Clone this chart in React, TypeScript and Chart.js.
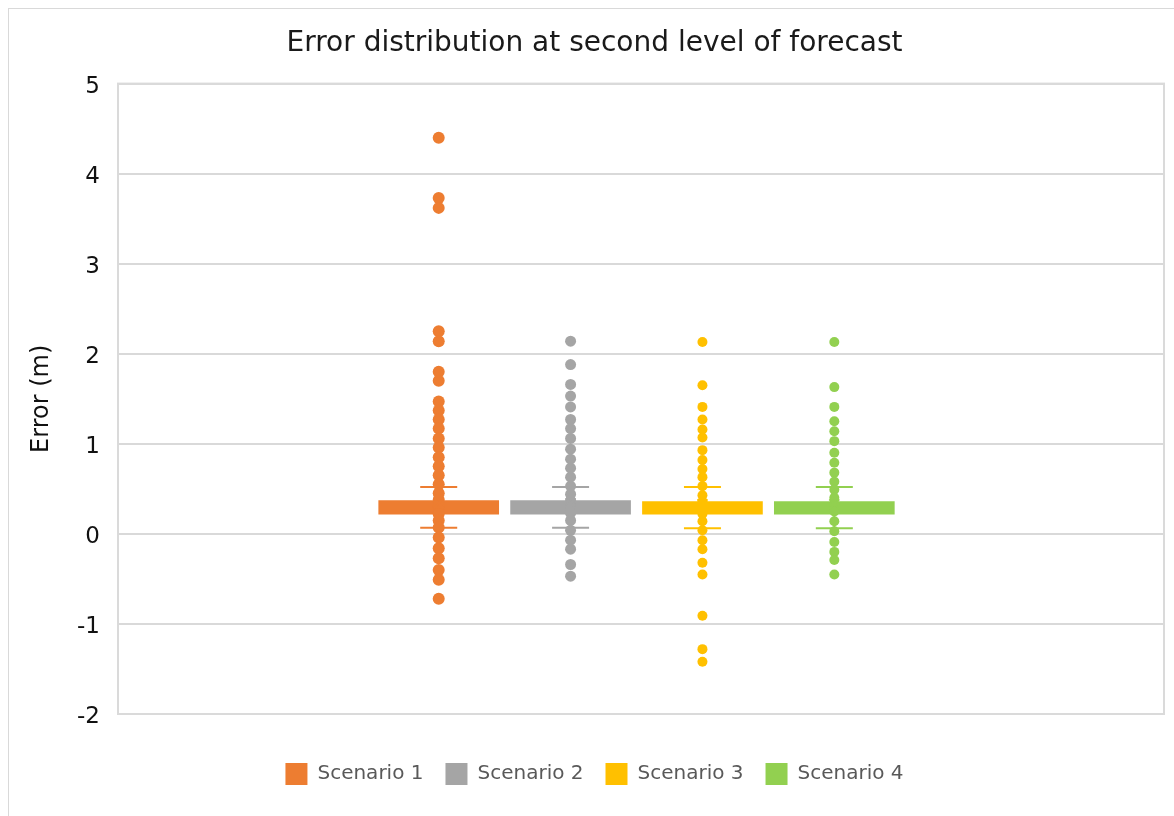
import { useEffect, useRef } from "react";
import { Chart, registerables } from "chart.js";
Chart.register(...registerables);

const scenarios = ["Scenario 1", "Scenario 2", "Scenario 3", "Scenario 4"];
const colors = ["#ED7D31", "#A5A5A5", "#FFC000", "#92D050"];
const positions = [0, 1, 2, 3];
const q1 = [0.22, 0.22, 0.22, 0.22];
const q3 = [0.37, 0.37, 0.36, 0.36];
const whiskerLow = [0.067, 0.067, 0.063, 0.063];
const whiskerHigh = [0.52, 0.52, 0.52, 0.52];
const means = [0.34, 0.34, 0.33, 0.33];
const dotRadius = [6, 5.5, 5, 5];

const points1 = [4.4, 3.73, 3.62, 2.25, 2.14, 1.8, 1.7, 1.47, 1.37, 1.27, 1.17, 1.06, 0.96, 0.85, 0.75, 0.65, 0.55, 0.45, 0.38, 0.3, 0.22, 0.15, 0.07, -0.04, -0.16, -0.27, -0.4, -0.51, -0.72];
const points2 = [2.14, 1.88, 1.66, 1.53, 1.41, 1.27, 1.17, 1.06, 0.94, 0.83, 0.73, 0.63, 0.53, 0.44, 0.37, 0.3, 0.23, 0.15, 0.04, -0.07, -0.17, -0.34, -0.47];
const points3 = [2.13, 1.65, 1.41, 1.27, 1.16, 1.07, 0.93, 0.82, 0.72, 0.63, 0.53, 0.43, 0.36, 0.3, 0.22, 0.14, 0.04, -0.07, -0.17, -0.32, -0.45, -0.91, -1.28, -1.42];
const points4 = [2.13, 1.63, 1.41, 1.25, 1.14, 1.03, 0.9, 0.79, 0.68, 0.58, 0.49, 0.4, 0.33, 0.25, 0.14, 0.03, -0.09, -0.2, -0.29, -0.45];
const allPoints = [points1, points2, points3, points4];

const yMin = -2;
const yMax = 5;
const xMin = -2.432;
const xMax = 5.5;

const FONT = "'DejaVu Sans', Verdana, sans-serif";

const framePlugin = {
  id: "frame",
  beforeDatasetsDraw(chart: any) {
    const { ctx, chartArea } = chart;
    const { left, top, right, bottom } = chartArea;
    ctx.save();
    ctx.strokeStyle = "#dadada";
    ctx.lineWidth = 2;
    ctx.strokeRect(left, top, right - left, bottom - top);
    ctx.restore();
  },
};

export default function App() {
  const ref = useRef<HTMLCanvasElement | null>(null);

  useEffect(() => {
    if (!ref.current) return;
    const datasets: any[] = [];
    scenarios.forEach((name, i) => {
      datasets.push({
        type: "bar",
        label: name,
        data: [{ x: positions[i], y: [q1[i], q3[i]] }],
        backgroundColor: colors[i],
        borderColor: colors[i],
        borderWidth: 0,
        barThickness: 120,
        grouped: false,
        order: 4,
      });
    });
    scenarios.forEach((name, i) => {
      datasets.push({
        type: "line",
        label: name + " whisker",
        data: [
          { x: positions[i], y: whiskerLow[i] },
          { x: positions[i], y: whiskerHigh[i] },
        ],
        borderColor: colors[i],
        borderWidth: 2,
        pointRadius: 0,
        showLine: true,
        order: 3,
      });
      datasets.push({
        type: "scatter",
        label: name + " caps",
        data: [
          { x: positions[i], y: whiskerLow[i] },
          { x: positions[i], y: whiskerHigh[i] },
        ],
        pointStyle: "line",
        pointRadius: 18.5,
        borderColor: colors[i],
        borderWidth: 2,
        order: 3,
      });
      datasets.push({
        type: "scatter",
        label: name + " points",
        data: allPoints[i].map((v) => ({ x: positions[i], y: v })),
        pointStyle: "circle",
        pointRadius: dotRadius[i],
        backgroundColor: colors[i],
        borderWidth: 0,
        order: 2,
      });
      datasets.push({
        type: "scatter",
        label: name + " mean",
        data: [{ x: positions[i], y: means[i] }],
        pointStyle: "crossRot",
        pointRadius: 7,
        borderColor: colors[i],
        borderWidth: 2,
        order: 1,
      });
    });

    const chart = new Chart(ref.current, {
      type: "scatter",
      data: { datasets },
      plugins: [framePlugin],
      options: {
        animation: false,
        responsive: false,
        devicePixelRatio: 1,
        layout: {
          autoPadding: false,
          padding: { top: 0, left: 16, right: 10, bottom: 21 },
        },
        scales: {
          x: {
            type: "linear",
            min: xMin,
            max: xMax,
            offset: false,
            ticks: { display: false },
            grid: { display: false },
            border: { display: false },
            afterFit: (s: any) => {
              s.height = 27;
            },
          },
          y: {
            min: yMin,
            max: yMax,
            ticks: {
              stepSize: 1,
              color: "#111",
              font: { family: FONT, size: 23 },
              padding: 18,
              labelOffset: 3,
            },
            grid: { color: "#d9d9d9", lineWidth: 2, drawTicks: false },
            border: { display: false },
            title: {
              display: true,
              text: "Error (m)",
              color: "#111",
              font: { family: FONT, size: 24 },
              padding: { top: 2, bottom: 0 },
            },
            afterFit: (s: any) => {
              s.width = 93;
            },
          },
        },
        plugins: {
          title: {
            display: true,
            text: "Error distribution at second level of forecast",
            color: "#1a1a1a",
            font: { family: FONT, size: 28, weight: "normal" },
            padding: { top: 18, bottom: 23 },
          },
          legend: {
            position: "bottom",
            labels: {
              boxWidth: 22,
              boxHeight: 22,
              padding: 22,
              color: "#595959",
              font: { family: FONT, size: 20 },
              filter: (item: any) => item.datasetIndex < 4,
            },
          },
          tooltip: { enabled: false },
        },
      } as any,
    });
    return () => chart.destroy();
  }, []);

  return (
    <div
      style={{
        position: "fixed",
        left: 8,
        top: 8,
        width: 1165,
        height: 807,
        borderTop: "1px solid #d9d9d9",
        borderLeft: "1px solid #d9d9d9",
        background: "#fff",
      }}
    >
      <canvas
        ref={ref}
        width={1165}
        height={807}
        style={{ display: "block", width: 1165, height: 807 }}
      />
    </div>
  );
}
